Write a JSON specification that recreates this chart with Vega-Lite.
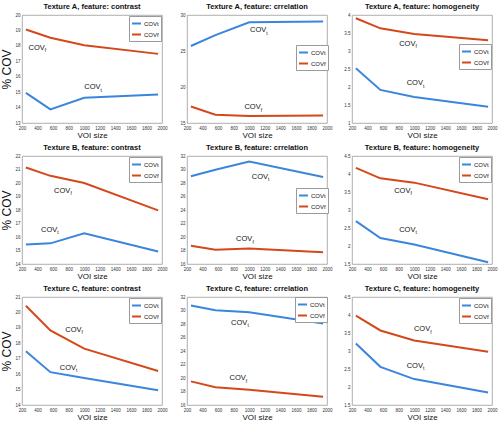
{
"$schema": "https://vega.github.io/schema/vega-lite/v6.json",
"padding": {"left": 0, "top": 2, "right": 0, "bottom": 0},
"columns": 3,
"spacing": {"row": 33, "column": 25},
"bounds": "flush",
"resolve": {"legend": {"color": "independent"}},
"config": {
  "font": "Liberation Sans",
  "view": {"stroke": "#9a9a9a", "strokeWidth": 0.8},
  "axis": {"grid": false, "ticks": false, "domain": false, "labelFontSize": 4.5, "labelPadding": 2, "labelColor": "#333", "titleFontWeight": "normal", "titleColor": "#111"},
  "axisX": {"titleFontSize": 8, "titlePadding": 2},
  "title": {"fontSize": 7.5, "fontWeight": "bold", "offset": 2, "color": "#111"},
  "legend": {"orient": "top-right", "offset": 1, "symbolType": "stroke", "symbolSize": 80, "symbolStrokeWidth": 2, "labelFontSize": 6, "padding": 2, "rowPadding": 1, "labelOffset": 2, "strokeColor": "#9a9a9a", "fillColor": "white", "labelColor": "#111"}
},
"datasets": {
  "lines": [
    {"p":"Ac","s":"COVt","voi":250,"cov":14.95},{"p":"Ac","s":"COVt","voi":565,"cov":13.88},{"p":"Ac","s":"COVt","voi":1000,"cov":14.63},{"p":"Ac","s":"COVt","voi":1950,"cov":14.84},
    {"p":"Ac","s":"COVf","voi":250,"cov":19.06},{"p":"Ac","s":"COVf","voi":565,"cov":18.53},{"p":"Ac","s":"COVf","voi":1000,"cov":18.04},{"p":"Ac","s":"COVf","voi":1950,"cov":17.48},
    {"p":"Ar","s":"COVt","voi":250,"cov":25.7},{"p":"Ar","s":"COVt","voi":565,"cov":27.2},{"p":"Ar","s":"COVt","voi":1000,"cov":29.0},{"p":"Ar","s":"COVt","voi":1950,"cov":29.1},
    {"p":"Ar","s":"COVf","voi":250,"cov":17.3},{"p":"Ar","s":"COVf","voi":565,"cov":16.15},{"p":"Ar","s":"COVf","voi":1000,"cov":15.96},{"p":"Ar","s":"COVf","voi":1950,"cov":16.05},
    {"p":"Ah","s":"COVt","voi":250,"cov":2.52},{"p":"Ah","s":"COVt","voi":565,"cov":1.92},{"p":"Ah","s":"COVt","voi":1000,"cov":1.72},{"p":"Ah","s":"COVt","voi":1950,"cov":1.45},
    {"p":"Ah","s":"COVf","voi":250,"cov":3.91},{"p":"Ah","s":"COVf","voi":565,"cov":3.63},{"p":"Ah","s":"COVf","voi":1000,"cov":3.47},{"p":"Ah","s":"COVf","voi":1950,"cov":3.30},
    {"p":"Bc","s":"COVt","voi":250,"cov":15.45},{"p":"Bc","s":"COVt","voi":565,"cov":15.53},{"p":"Bc","s":"COVt","voi":1000,"cov":16.28},{"p":"Bc","s":"COVt","voi":1950,"cov":14.92},
    {"p":"Bc","s":"COVf","voi":250,"cov":21.15},{"p":"Bc","s":"COVf","voi":565,"cov":20.53},{"p":"Bc","s":"COVf","voi":1000,"cov":20.0},{"p":"Bc","s":"COVf","voi":1950,"cov":17.97},
    {"p":"Br","s":"COVt","voi":250,"cov":28.99},{"p":"Br","s":"COVt","voi":565,"cov":29.96},{"p":"Br","s":"COVt","voi":1000,"cov":31.17},{"p":"Br","s":"COVt","voi":1950,"cov":28.9},
    {"p":"Br","s":"COVf","voi":250,"cov":18.7},{"p":"Br","s":"COVf","voi":565,"cov":18.12},{"p":"Br","s":"COVf","voi":1000,"cov":18.31},{"p":"Br","s":"COVf","voi":1950,"cov":17.73},
    {"p":"Bh","s":"COVt","voi":250,"cov":2.69},{"p":"Bh","s":"COVt","voi":565,"cov":2.22},{"p":"Bh","s":"COVt","voi":1000,"cov":2.04},{"p":"Bh","s":"COVt","voi":1950,"cov":1.55},
    {"p":"Bh","s":"COVf","voi":250,"cov":4.17},{"p":"Bh","s":"COVf","voi":565,"cov":3.88},{"p":"Bh","s":"COVf","voi":1000,"cov":3.76},{"p":"Bh","s":"COVf","voi":1950,"cov":3.30},
    {"p":"Cc","s":"COVt","voi":250,"cov":17.49},{"p":"Cc","s":"COVt","voi":565,"cov":16.13},{"p":"Cc","s":"COVt","voi":1000,"cov":15.75},{"p":"Cc","s":"COVt","voi":1950,"cov":14.95},
    {"p":"Cc","s":"COVf","voi":250,"cov":20.43},{"p":"Cc","s":"COVf","voi":565,"cov":18.83},{"p":"Cc","s":"COVf","voi":1000,"cov":17.65},{"p":"Cc","s":"COVf","voi":1950,"cov":16.2},
    {"p":"Cr","s":"COVt","voi":250,"cov":30.73},{"p":"Cr","s":"COVt","voi":565,"cov":30.04},{"p":"Cr","s":"COVt","voi":1000,"cov":29.75},{"p":"Cr","s":"COVt","voi":1950,"cov":28.08},
    {"p":"Cr","s":"COVf","voi":250,"cov":19.5},{"p":"Cr","s":"COVf","voi":565,"cov":18.62},{"p":"Cr","s":"COVf","voi":1000,"cov":18.27},{"p":"Cr","s":"COVf","voi":1950,"cov":17.24},
    {"p":"Ch","s":"COVt","voi":250,"cov":3.21},{"p":"Ch","s":"COVt","voi":565,"cov":2.56},{"p":"Ch","s":"COVt","voi":1000,"cov":2.22},{"p":"Ch","s":"COVt","voi":1950,"cov":1.85},
    {"p":"Ch","s":"COVf","voi":250,"cov":3.98},{"p":"Ch","s":"COVf","voi":565,"cov":3.57},{"p":"Ch","s":"COVf","voi":1000,"cov":3.29},{"p":"Ch","s":"COVf","voi":1950,"cov":2.98}
  ],
  "labels": [
    {"p":"Ac","sub":"f","voi":284,"cov":17.87},{"p":"Ac","sub":"t","voi":1001,"cov":15.31},
    {"p":"Ar","sub":"t","voi":1010,"cov":27.85},{"p":"Ar","sub":"f","voi":938,"cov":17.2},
    {"p":"Ah","sub":"f","voi":806,"cov":3.2},{"p":"Ah","sub":"t","voi":903,"cov":2.11},
    {"p":"Bc","sub":"f","voi":613,"cov":19.42},{"p":"Bc","sub":"t","voi":445,"cov":16.52},
    {"p":"Br","sub":"t","voi":1032,"cov":28.9},{"p":"Br","sub":"f","voi":831,"cov":19.67},
    {"p":"Bh","sub":"f","voi":742,"cov":3.54},{"p":"Bh","sub":"t","voi":806,"cov":2.45},
    {"p":"Cc","sub":"f","voi":756,"cov":18.88},{"p":"Cc","sub":"t","voi":685,"cov":16.43},
    {"p":"Cr","sub":"t","voi":767,"cov":28.2},{"p":"Cr","sub":"f","voi":746,"cov":20.0},
    {"p":"Ch","sub":"f","voi":996,"cov":3.6},{"p":"Ch","sub":"t","voi":903,"cov":2.59}
  ]
},
"concat": [
  {"title": "Texture A, feature: contrast", "width": 140, "height": 108,
   "encoding": {"x": {"field":"voi","type":"quantitative","scale":{"domain":[200,2000],"nice":false},"axis":{"values":[200,400,600,800,1000,1200,1400,1600,1800,2000],"title":"VOI size","format":"d","labelFlush":false}},
                "y": {"field":"cov","type":"quantitative","scale":{"domain":[13,20],"nice":false,"zero":false},"axis":{"values":[13,14,15,16,17,18,19,20],"title":"% COV","titleFontSize":12,"titlePadding":1,"format":"~r"}}},
   "layer": [
     {"data":{"name":"lines"},"transform":[{"filter":"datum.p==='Ac'"}],"mark":{"type":"line","strokeWidth":2},"encoding":{"color":{"field":"s","type":"nominal","scale":{"domain":["COVt","COVf"],"range":["#3B86DC","#D4491C"]},"legend":{"title":null}}}},
     {"data":{"name":"labels"},"transform":[{"filter":"datum.p==='Ac'"}],"mark":{"type":"text","align":"left","baseline":"middle","fontSize":7.5,"color":"#111"},"encoding":{"text":{"value":"COV"}}},
     {"data":{"name":"labels"},"transform":[{"filter":"datum.p==='Ac'"}],"mark":{"type":"text","align":"left","baseline":"middle","fontSize":5,"dx":16.3,"dy":2.5,"color":"#111"},"encoding":{"text":{"field":"sub"}}}
   ]},
  {"title": "Texture A, feature: crrelation", "width": 140, "height": 108,
   "encoding": {"x": {"field":"voi","type":"quantitative","scale":{"domain":[200,2000],"nice":false},"axis":{"values":[200,400,600,800,1000,1200,1400,1600,1800,2000],"title":"VOI size","format":"d","labelFlush":false}},
                "y": {"field":"cov","type":"quantitative","scale":{"domain":[15,30],"nice":false,"zero":false},"axis":{"values":[15,20,25,30],"title":null,"format":"~r"}}},
   "layer": [
     {"data":{"name":"lines"},"transform":[{"filter":"datum.p==='Ar'"}],"mark":{"type":"line","strokeWidth":2},"encoding":{"color":{"field":"s","type":"nominal","scale":{"domain":["COVt","COVf"],"range":["#3B86DC","#D4491C"]},"legend":{"title":null,"orient":"none","legendX":109,"legendY":30}}}},
     {"data":{"name":"labels"},"transform":[{"filter":"datum.p==='Ar'"}],"mark":{"type":"text","align":"left","baseline":"middle","fontSize":7.5,"color":"#111"},"encoding":{"text":{"value":"COV"}}},
     {"data":{"name":"labels"},"transform":[{"filter":"datum.p==='Ar'"}],"mark":{"type":"text","align":"left","baseline":"middle","fontSize":5,"dx":16.3,"dy":2.5,"color":"#111"},"encoding":{"text":{"field":"sub"}}}
   ]},
  {"title": "Texture A, feature: homogeneity", "width": 140, "height": 108,
   "encoding": {"x": {"field":"voi","type":"quantitative","scale":{"domain":[200,2000],"nice":false},"axis":{"values":[200,400,600,800,1000,1200,1400,1600,1800,2000],"title":"VOI size","format":"d","labelFlush":false}},
                "y": {"field":"cov","type":"quantitative","scale":{"domain":[1,4],"nice":false,"zero":false},"axis":{"values":[1,1.5,2,2.5,3,3.5,4],"title":null,"format":"~r"}}},
   "layer": [
     {"data":{"name":"lines"},"transform":[{"filter":"datum.p==='Ah'"}],"mark":{"type":"line","strokeWidth":2},"encoding":{"color":{"field":"s","type":"nominal","scale":{"domain":["COVt","COVf"],"range":["#3B86DC","#D4491C"]},"legend":{"title":null,"orient":"none","legendX":107,"legendY":29}}}},
     {"data":{"name":"labels"},"transform":[{"filter":"datum.p==='Ah'"}],"mark":{"type":"text","align":"left","baseline":"middle","fontSize":7.5,"color":"#111"},"encoding":{"text":{"value":"COV"}}},
     {"data":{"name":"labels"},"transform":[{"filter":"datum.p==='Ah'"}],"mark":{"type":"text","align":"left","baseline":"middle","fontSize":5,"dx":16.3,"dy":2.5,"color":"#111"},"encoding":{"text":{"field":"sub"}}}
   ]},
  {"title": "Texture B, feature: contrast", "width": 140, "height": 108,
   "encoding": {"x": {"field":"voi","type":"quantitative","scale":{"domain":[200,2000],"nice":false},"axis":{"values":[200,400,600,800,1000,1200,1400,1600,1800,2000],"title":"VOI size","format":"d","labelFlush":false}},
                "y": {"field":"cov","type":"quantitative","scale":{"domain":[14,22],"nice":false,"zero":false},"axis":{"values":[14,15,16,17,18,19,20,21,22],"title":"% COV","titleFontSize":12,"titlePadding":1,"format":"~r"}}},
   "layer": [
     {"data":{"name":"lines"},"transform":[{"filter":"datum.p==='Bc'"}],"mark":{"type":"line","strokeWidth":2},"encoding":{"color":{"field":"s","type":"nominal","scale":{"domain":["COVt","COVf"],"range":["#3B86DC","#D4491C"]},"legend":{"title":null}}}},
     {"data":{"name":"labels"},"transform":[{"filter":"datum.p==='Bc'"}],"mark":{"type":"text","align":"left","baseline":"middle","fontSize":7.5,"color":"#111"},"encoding":{"text":{"value":"COV"}}},
     {"data":{"name":"labels"},"transform":[{"filter":"datum.p==='Bc'"}],"mark":{"type":"text","align":"left","baseline":"middle","fontSize":5,"dx":16.3,"dy":2.5,"color":"#111"},"encoding":{"text":{"field":"sub"}}}
   ]},
  {"title": "Texture B, feature: crrelation", "width": 140, "height": 108,
   "encoding": {"x": {"field":"voi","type":"quantitative","scale":{"domain":[200,2000],"nice":false},"axis":{"values":[200,400,600,800,1000,1200,1400,1600,1800,2000],"title":"VOI size","format":"d","labelFlush":false}},
                "y": {"field":"cov","type":"quantitative","scale":{"domain":[16,32],"nice":false,"zero":false},"axis":{"values":[16,18,20,22,24,26,28,30,32],"title":null,"format":"~r"}}},
   "layer": [
     {"data":{"name":"lines"},"transform":[{"filter":"datum.p==='Br'"}],"mark":{"type":"line","strokeWidth":2},"encoding":{"color":{"field":"s","type":"nominal","scale":{"domain":["COVt","COVf"],"range":["#3B86DC","#D4491C"]},"legend":{"title":null,"orient":"none","legendX":109,"legendY":32}}}},
     {"data":{"name":"labels"},"transform":[{"filter":"datum.p==='Br'"}],"mark":{"type":"text","align":"left","baseline":"middle","fontSize":7.5,"color":"#111"},"encoding":{"text":{"value":"COV"}}},
     {"data":{"name":"labels"},"transform":[{"filter":"datum.p==='Br'"}],"mark":{"type":"text","align":"left","baseline":"middle","fontSize":5,"dx":16.3,"dy":2.5,"color":"#111"},"encoding":{"text":{"field":"sub"}}}
   ]},
  {"title": "Texture B, feature: homogeneity", "width": 140, "height": 108,
   "encoding": {"x": {"field":"voi","type":"quantitative","scale":{"domain":[200,2000],"nice":false},"axis":{"values":[200,400,600,800,1000,1200,1400,1600,1800,2000],"title":"VOI size","format":"d","labelFlush":false}},
                "y": {"field":"cov","type":"quantitative","scale":{"domain":[1.5,4.5],"nice":false,"zero":false},"axis":{"values":[1.5,2,2.5,3,3.5,4,4.5],"title":null,"format":"~r"}}},
   "layer": [
     {"data":{"name":"lines"},"transform":[{"filter":"datum.p==='Bh'"}],"mark":{"type":"line","strokeWidth":2},"encoding":{"color":{"field":"s","type":"nominal","scale":{"domain":["COVt","COVf"],"range":["#3B86DC","#D4491C"]},"legend":{"title":null}}}},
     {"data":{"name":"labels"},"transform":[{"filter":"datum.p==='Bh'"}],"mark":{"type":"text","align":"left","baseline":"middle","fontSize":7.5,"color":"#111"},"encoding":{"text":{"value":"COV"}}},
     {"data":{"name":"labels"},"transform":[{"filter":"datum.p==='Bh'"}],"mark":{"type":"text","align":"left","baseline":"middle","fontSize":5,"dx":16.3,"dy":2.5,"color":"#111"},"encoding":{"text":{"field":"sub"}}}
   ]},
  {"title": "Texture C, feature: contrast", "width": 140, "height": 108,
   "encoding": {"x": {"field":"voi","type":"quantitative","scale":{"domain":[200,2000],"nice":false},"axis":{"values":[200,400,600,800,1000,1200,1400,1600,1800,2000],"title":"VOI size","format":"d","labelFlush":false}},
                "y": {"field":"cov","type":"quantitative","scale":{"domain":[14,21],"nice":false,"zero":false},"axis":{"values":[14,15,16,17,18,19,20,21],"title":"% COV","titleFontSize":12,"titlePadding":1,"format":"~r"}}},
   "layer": [
     {"data":{"name":"lines"},"transform":[{"filter":"datum.p==='Cc'"}],"mark":{"type":"line","strokeWidth":2},"encoding":{"color":{"field":"s","type":"nominal","scale":{"domain":["COVt","COVf"],"range":["#3B86DC","#D4491C"]},"legend":{"title":null}}}},
     {"data":{"name":"labels"},"transform":[{"filter":"datum.p==='Cc'"}],"mark":{"type":"text","align":"left","baseline":"middle","fontSize":7.5,"color":"#111"},"encoding":{"text":{"value":"COV"}}},
     {"data":{"name":"labels"},"transform":[{"filter":"datum.p==='Cc'"}],"mark":{"type":"text","align":"left","baseline":"middle","fontSize":5,"dx":16.3,"dy":2.5,"color":"#111"},"encoding":{"text":{"field":"sub"}}}
   ]},
  {"title": "Texture C, feature: crrelation", "width": 140, "height": 108,
   "encoding": {"x": {"field":"voi","type":"quantitative","scale":{"domain":[200,2000],"nice":false},"axis":{"values":[200,400,600,800,1000,1200,1400,1600,1800,2000],"title":"VOI size","format":"d","labelFlush":false}},
                "y": {"field":"cov","type":"quantitative","scale":{"domain":[16,32],"nice":false,"zero":false},"axis":{"values":[16,18,20,22,24,26,28,30,32],"title":null,"format":"~r"}}},
   "layer": [
     {"data":{"name":"lines"},"transform":[{"filter":"datum.p==='Cr'"}],"mark":{"type":"line","strokeWidth":2},"encoding":{"color":{"field":"s","type":"nominal","scale":{"domain":["COVt","COVf"],"range":["#3B86DC","#D4491C"]},"legend":{"title":null,"offset":0}}}},
     {"data":{"name":"labels"},"transform":[{"filter":"datum.p==='Cr'"}],"mark":{"type":"text","align":"left","baseline":"middle","fontSize":7.5,"color":"#111"},"encoding":{"text":{"value":"COV"}}},
     {"data":{"name":"labels"},"transform":[{"filter":"datum.p==='Cr'"}],"mark":{"type":"text","align":"left","baseline":"middle","fontSize":5,"dx":16.3,"dy":2.5,"color":"#111"},"encoding":{"text":{"field":"sub"}}}
   ]},
  {"title": "Texture C, feature: homogeneity", "width": 140, "height": 108,
   "encoding": {"x": {"field":"voi","type":"quantitative","scale":{"domain":[200,2000],"nice":false},"axis":{"values":[200,400,600,800,1000,1200,1400,1600,1800,2000],"title":"VOI size","format":"d","labelFlush":false}},
                "y": {"field":"cov","type":"quantitative","scale":{"domain":[1.5,4.5],"nice":false,"zero":false},"axis":{"values":[1.5,2,2.5,3,3.5,4,4.5],"title":null,"format":"~r"}}},
   "layer": [
     {"data":{"name":"lines"},"transform":[{"filter":"datum.p==='Ch'"}],"mark":{"type":"line","strokeWidth":2},"encoding":{"color":{"field":"s","type":"nominal","scale":{"domain":["COVt","COVf"],"range":["#3B86DC","#D4491C"]},"legend":{"title":null}}}},
     {"data":{"name":"labels"},"transform":[{"filter":"datum.p==='Ch'"}],"mark":{"type":"text","align":"left","baseline":"middle","fontSize":7.5,"color":"#111"},"encoding":{"text":{"value":"COV"}}},
     {"data":{"name":"labels"},"transform":[{"filter":"datum.p==='Ch'"}],"mark":{"type":"text","align":"left","baseline":"middle","fontSize":5,"dx":16.3,"dy":2.5,"color":"#111"},"encoding":{"text":{"field":"sub"}}}
   ]}
]
}
